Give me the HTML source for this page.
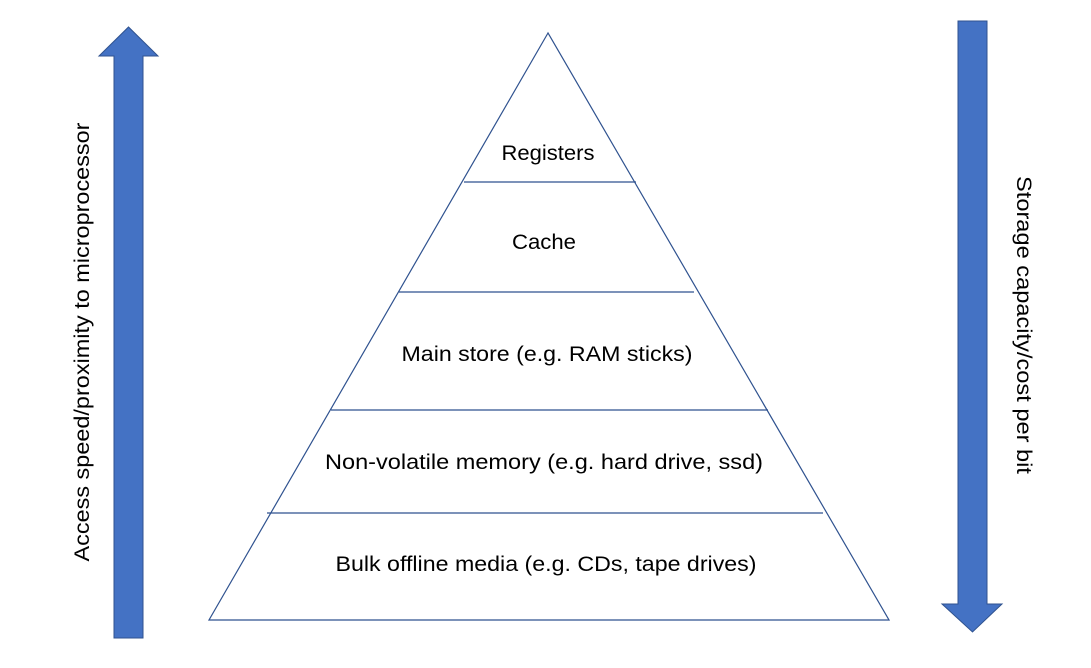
<!DOCTYPE html>
<html><head><style>
body{margin:0;background:#fff;}
svg text{font-family:"Liberation Sans",sans-serif;font-size:21px;fill:#000;}
</style></head><body>
<svg width="1091" height="663" viewBox="0 0 1091 663" xmlns="http://www.w3.org/2000/svg">
<rect width="1091" height="663" fill="#fff"/>
<polygon points="114,638 143,638 143,56 158,56 128.5,27 99,56 114,56" fill="#4472C4" stroke="#2F528F" stroke-width="1"/>
<polygon points="958,21 987,21 987,604 1002,604 972.5,632 942,604 958,604" fill="#4472C4" stroke="#2F528F" stroke-width="1"/>
<polygon points="548,33 209,620 889,620" fill="none" stroke="#2F528F" stroke-width="1.2"/>
<g stroke="#2F528F" stroke-width="1.2">
<line x1="464" y1="182" x2="636" y2="182"/>
<line x1="399" y1="292" x2="694" y2="292"/>
<line x1="331" y1="410" x2="768" y2="410"/>
<line x1="267" y1="513" x2="823" y2="513"/>
</g>
<g text-anchor="middle" lengthAdjust="spacingAndGlyphs">
<text x="548" y="160" textLength="93" lengthAdjust="spacingAndGlyphs">Registers</text>
<text x="544" y="249" textLength="64" lengthAdjust="spacingAndGlyphs">Cache</text>
<text x="547" y="361" textLength="291" lengthAdjust="spacingAndGlyphs">Main store (e.g. RAM sticks)</text>
<text x="544" y="469" textLength="438" lengthAdjust="spacingAndGlyphs">Non-volatile memory (e.g. hard drive, ssd)</text>
<text x="546" y="571" textLength="421" lengthAdjust="spacingAndGlyphs">Bulk offline media (e.g. CDs, tape drives)</text>
<text transform="translate(89,342) rotate(-90)" textLength="439" lengthAdjust="spacingAndGlyphs">Access speed/proximity to microprocessor</text>
<text transform="translate(1017,325) rotate(90)" textLength="298" lengthAdjust="spacingAndGlyphs">Storage capacity/cost per bit</text>
</g>
</svg>
</body></html>
